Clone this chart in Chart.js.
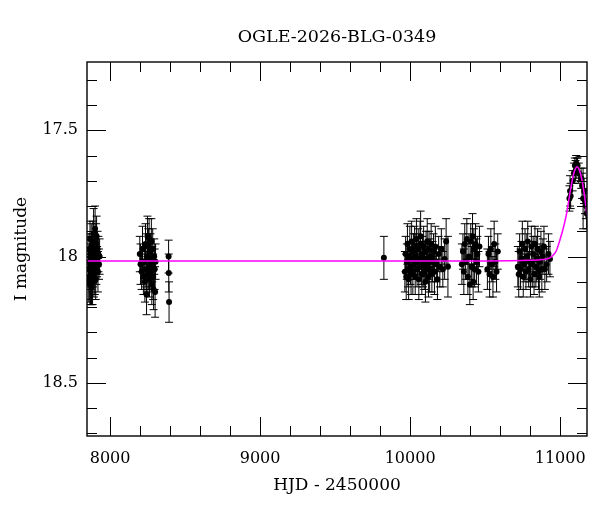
<!DOCTYPE html>
<html>
<head>
<meta charset="utf-8">
<script src="https://cdn.jsdelivr.net/npm/chart.js@4.4.1/dist/chart.umd.min.js"></script>
<style>
  html, body { margin: 0; padding: 0; background: #fff; }
  #chart { display: block; }
</style>
</head>
<body>
<canvas id="chart" width="600" height="512"></canvas>
<script>
// photometry per season: [HJD - 2450000, I mag, error]
const season2017 = [
  [7856, 18.05, 0.07], [7858, 18.10, 0.08], [7860, 17.97, 0.06], [7861, 18.08, 0.09],
  [7863, 18.02, 0.07], [7865, 18.11, 0.08], [7866, 17.93, 0.07], [7868, 18.04, 0.06],
  [7869, 18.09, 0.10], [7871, 18.00, 0.08], [7873, 18.06, 0.07], [7874, 17.96, 0.09],
  [7876, 18.12, 0.07], [7878, 18.03, 0.06], [7880, 17.99, 0.08], [7882, 18.07, 0.07],
  [7883, 18.10, 0.09], [7885, 17.94, 0.08], [7887, 18.05, 0.07], [7889, 18.01, 0.06],
  [7890, 17.91, 0.10], [7892, 18.08, 0.08], [7894, 18.03, 0.07], [7896, 17.98, 0.07],
  [7898, 18.06, 0.09], [7900, 17.89, 0.09], [7902, 18.00, 0.07], [7904, 18.09, 0.08],
  [7906, 17.95, 0.08], [7908, 18.04, 0.07], [7910, 17.92, 0.08], [7913, 18.02, 0.06],
  [7916, 17.97, 0.07], [7919, 18.06, 0.08], [7922, 17.99, 0.07], [7926, 18.03, 0.06],
  [7930, 18.00, 0.07]
];

const season2018 = [
  [8198, 17.99, 0.07], [8203, 18.03, 0.08], [8210, 18.06, 0.07], [8216, 17.97, 0.09],
  [8222, 18.08, 0.07], [8228, 18.02, 0.06], [8232, 18.10, 0.08], [8236, 17.95, 0.08],
  [8240, 18.05, 0.07], [8243, 18.15, 0.08], [8246, 18.00, 0.09], [8249, 17.92, 0.08],
  [8252, 18.07, 0.07], [8255, 17.96, 0.07], [8258, 18.04, 0.09], [8260, 17.93, 0.08],
  [8263, 18.09, 0.07], [8266, 18.01, 0.08], [8269, 17.98, 0.07], [8272, 18.06, 0.07],
  [8275, 17.94, 0.09], [8278, 18.11, 0.08], [8281, 18.03, 0.07], [8284, 17.97, 0.08],
  [8287, 18.08, 0.09], [8290, 18.13, 0.08], [8294, 18.00, 0.07], [8297, 18.05, 0.08],
  [8300, 18.14, 0.10], [8303, 18.02, 0.07],
  [8390, 18.00, 0.065], [8391, 18.065, 0.075], [8393, 18.18, 0.08]
];

const season2022 = [
  [9825, 18.005, 0.085]
];

const season2023 = [
  [9965, 18.06, 0.08], [9970, 17.99, 0.07], [9974, 18.08, 0.09], [9978, 18.02, 0.07],
  [9982, 17.95, 0.08], [9986, 18.05, 0.07], [9990, 18.09, 0.08], [9994, 18.00, 0.06],
  [9998, 17.97, 0.09], [10002, 18.04, 0.07], [10006, 18.07, 0.08], [10010, 17.94, 0.08],
  [10014, 18.01, 0.07], [10018, 18.06, 0.09], [10022, 17.98, 0.07], [10026, 18.03, 0.06],
  [10030, 17.96, 0.08], [10034, 18.08, 0.07], [10038, 18.00, 0.09], [10042, 17.93, 0.08],
  [10046, 18.05, 0.07], [10050, 18.02, 0.07], [10054, 17.97, 0.08], [10058, 18.09, 0.08],
  [10062, 18.01, 0.06], [10066, 17.95, 0.09], [10070, 17.92, 0.10], [10074, 18.04, 0.07],
  [10078, 18.07, 0.08], [10082, 17.99, 0.07], [10086, 18.03, 0.09], [10090, 17.96, 0.08],
  [10094, 18.06, 0.07], [10098, 18.01, 0.07], [10102, 18.10, 0.08], [10106, 17.98, 0.08],
  [10110, 18.04, 0.06], [10114, 17.94, 0.09], [10118, 18.02, 0.07], [10122, 18.08, 0.08],
  [10126, 17.97, 0.07], [10130, 18.05, 0.09], [10135, 18.00, 0.07], [10140, 17.95, 0.08],
  [10145, 18.07, 0.07], [10150, 18.02, 0.08], [10156, 17.98, 0.07], [10162, 18.06, 0.09],
  [10168, 17.96, 0.08], [10175, 18.03, 0.07], [10182, 18.09, 0.08], [10190, 17.99, 0.07],
  [10198, 18.04, 0.08], [10208, 17.97, 0.08], [10218, 18.05, 0.07], [10230, 18.01, 0.08],
  [10240, 17.94, 0.09], [10252, 18.04, 0.12]
];

const season2024 = [
  [10345, 18.03, 0.08], [10352, 17.98, 0.07], [10358, 18.06, 0.09], [10364, 17.95, 0.08],
  [10370, 18.02, 0.07], [10378, 17.93, 0.08], [10385, 18.08, 0.07], [10392, 18.00, 0.09],
  [10398, 18.11, 0.08], [10404, 17.94, 0.07], [10410, 18.04, 0.08], [10416, 17.92, 0.09],
  [10420, 18.10, 0.07], [10425, 17.97, 0.08], [10430, 18.05, 0.07], [10436, 17.95, 0.08],
  [10442, 18.02, 0.09], [10448, 17.99, 0.07], [10455, 18.06, 0.08], [10462, 17.96, 0.08],
  [10515, 18.05, 0.08], [10522, 17.99, 0.07], [10530, 18.07, 0.09], [10538, 17.97, 0.08],
  [10545, 18.03, 0.07], [10552, 18.08, 0.08], [10560, 17.95, 0.09], [10568, 18.02, 0.07],
  [10576, 18.06, 0.08], [10584, 17.98, 0.07]
];

const season2025 = [
  [10718, 18.04, 0.08], [10724, 18.07, 0.09], [10730, 17.98, 0.07], [10736, 18.05, 0.08],
  [10742, 18.01, 0.07], [10748, 17.95, 0.09], [10754, 18.08, 0.08], [10760, 18.03, 0.07],
  [10766, 17.97, 0.08], [10772, 18.06, 0.07], [10778, 18.00, 0.09], [10784, 17.94, 0.08],
  [10790, 18.05, 0.07], [10796, 18.02, 0.08], [10802, 18.09, 0.07], [10808, 17.96, 0.08],
  [10814, 18.03, 0.09], [10820, 17.99, 0.07], [10826, 18.07, 0.08], [10832, 17.95, 0.07],
  [10838, 18.04, 0.08], [10844, 18.01, 0.09], [10850, 17.97, 0.08], [10856, 18.06, 0.07],
  [10861, 18.08, 0.08], [10866, 18.02, 0.07], [10872, 17.98, 0.08], [10878, 18.05, 0.09],
  [10885, 18.00, 0.07], [10892, 17.96, 0.08], [10898, 18.05, 0.08], [10910, 18.03, 0.07],
  [10922, 17.99, 0.08], [10932, 18.01, 0.07]
];

const season2026 = [
  [11062, 17.77, 0.05], [11066, 17.74, 0.06], [11070, 17.76, 0.05], [11083, 17.70, 0.04],
  [11092, 17.67, 0.04], [11098, 17.64, 0.03], [11103, 17.66, 0.04], [11107, 17.63, 0.03],
  [11111, 17.65, 0.04], [11116, 17.64, 0.03], [11124, 17.67, 0.04], [11140, 17.69, 0.04],
  [11146, 17.72, 0.05], [11153, 17.77, 0.12], [11160, 17.74, 0.05], [11166, 17.78, 0.05],
  [11172, 17.80, 0.05], [11177, 17.83, 0.06]
];

// model light curve
const modelHjd = [7846, 10500, 10800, 10880, 10931, 10960, 10976, 10998, 11020, 11043,
  11065, 11087, 11100, 11113, 11126, 11143, 11160, 11179];
const modelMag = [18.017, 18.017, 18.015, 18.012, 18.005, 17.99, 17.975, 17.935, 17.89, 17.83,
  17.75, 17.68, 17.655, 17.645, 17.655, 17.69, 17.75, 17.835];

const xMajorTicks = [8000, 9000, 10000, 11000];
const yMajorTicks = [17.5, 18, 18.5];
const xMinorStep = 200;
const yMinorStep = 0.1;

const xRange = [7846, 11179];
const yRange = [17.23, 18.71];

const titleText = 'OGLE-2026-BLG-0349';
const serif = "'DejaVu Serif', serif";

const photometry = [season2017, season2018, season2022, season2023, season2024, season2025, season2026]
  .flat()
  .map(([x, y, err]) => ({ x, y, err }));

const model = modelHjd.map((x, i) => ({ x, y: modelMag[i] }));

const errorBars = {
  id: 'errorBars',
  beforeDatasetsDraw(chart) {
    const { ctx, chartArea, scales } = chart;
    ctx.save();
    ctx.beginPath();
    ctx.rect(chartArea.left, chartArea.top, chartArea.width, chartArea.height);
    ctx.clip();
    ctx.strokeStyle = '#000';
    ctx.lineWidth = 1;
    ctx.beginPath();
    photometry.forEach((p) => {
      const px = scales.x.getPixelForValue(p.x);
      const y1 = scales.y.getPixelForValue(p.y - p.err);
      const y2 = scales.y.getPixelForValue(p.y + p.err);
      ctx.moveTo(px, y1);
      ctx.lineTo(px, y2);
      ctx.moveTo(px - 4, y1);
      ctx.lineTo(px + 4, y1);
      ctx.moveTo(px - 4, y2);
      ctx.lineTo(px + 4, y2);
    });
    ctx.stroke();
    ctx.restore();
  },
};

// box with inward ticks on all four sides, plus the title
const frame = {
  id: 'frame',
  afterDatasetsDraw(chart) {
    const { ctx, chartArea: a, scales } = chart;
    ctx.save();
    ctx.strokeStyle = '#000';
    ctx.lineWidth = 1;
    ctx.beginPath();
    for (let v = Math.ceil(xRange[0] / xMinorStep) * xMinorStep; v <= xRange[1]; v += xMinorStep) {
      const px = Math.round(scales.x.getPixelForValue(v)) + 0.5;
      const len = xMajorTicks.includes(v) ? 19 : 10;
      ctx.moveTo(px, a.bottom);
      ctx.lineTo(px, a.bottom - len);
      ctx.moveTo(px, a.top);
      ctx.lineTo(px, a.top + len);
    }
    for (let i = Math.ceil(yRange[0] / yMinorStep); i * yMinorStep <= yRange[1]; i++) {
      const v = +(i * yMinorStep).toFixed(2);
      const py = Math.round(scales.y.getPixelForValue(v)) + 0.5;
      const len = yMajorTicks.includes(v) ? 19 : 10;
      ctx.moveTo(a.left, py);
      ctx.lineTo(a.left + len, py);
      ctx.moveTo(a.right, py);
      ctx.lineTo(a.right - len, py);
    }
    ctx.stroke();
    ctx.lineWidth = 1.4;
    ctx.strokeRect(a.left, a.top, a.right - a.left, a.bottom - a.top);

    ctx.fillStyle = '#000';
    ctx.font = '17.5px ' + serif;
    ctx.textAlign = 'center';
    ctx.textBaseline = 'alphabetic';
    ctx.fillText(titleText, (a.left + a.right) / 2, 42);
    ctx.restore();
  },
};

new Chart(document.getElementById('chart'), {
  type: 'scatter',
  data: {
    datasets: [
      {
        data: model,
        showLine: true,
        borderColor: '#ff00ff',
        borderWidth: 1.5,
        pointRadius: 0,
        cubicInterpolationMode: 'monotone',
        order: 0,
      },
      {
        data: photometry,
        backgroundColor: '#000',
        borderWidth: 0,
        pointRadius: 3,
        order: 1,
      },
    ],
  },
  options: {
    responsive: false,
    animation: false,
    layout: { padding: { top: 62, right: 13, bottom: 0, left: 0 } },
    plugins: {
      legend: { display: false },
      tooltip: { enabled: false },
    },
    scales: {
      x: {
        type: 'linear',
        min: xRange[0],
        max: xRange[1],
        afterBuildTicks: (s) => { s.ticks = xMajorTicks.map((value) => ({ value })); },
        afterFit: (s) => { s.height = 76; },
        grid: { display: false, drawTicks: false },
        border: { display: false },
        ticks: {
          color: '#000',
          font: { family: serif, size: 16 },
          padding: 13,
          maxRotation: 0,
          callback: (v) => String(v),
        },
        title: {
          display: true,
          text: 'HJD - 2450000',
          color: '#000',
          font: { family: serif, size: 17 },
          padding: { top: 0, bottom: 16 },
        },
      },
      y: {
        type: 'linear',
        reverse: true,
        min: yRange[0],
        max: yRange[1],
        afterBuildTicks: (s) => { s.ticks = yMajorTicks.map((value) => ({ value })); },
        afterFit: (s) => { s.width = 87; },
        grid: { display: false, drawTicks: false },
        border: { display: false },
        ticks: {
          color: '#000',
          font: { family: serif, size: 16 },
          padding: 9,
          callback: (v) => String(v),
        },
        title: {
          display: true,
          text: 'I magnitude',
          color: '#000',
          font: { family: serif, size: 17 },
          padding: { top: 11, bottom: 0 },
        },
      },
    },
  },
  plugins: [errorBars, frame],
});
</script>
</body>
</html>
